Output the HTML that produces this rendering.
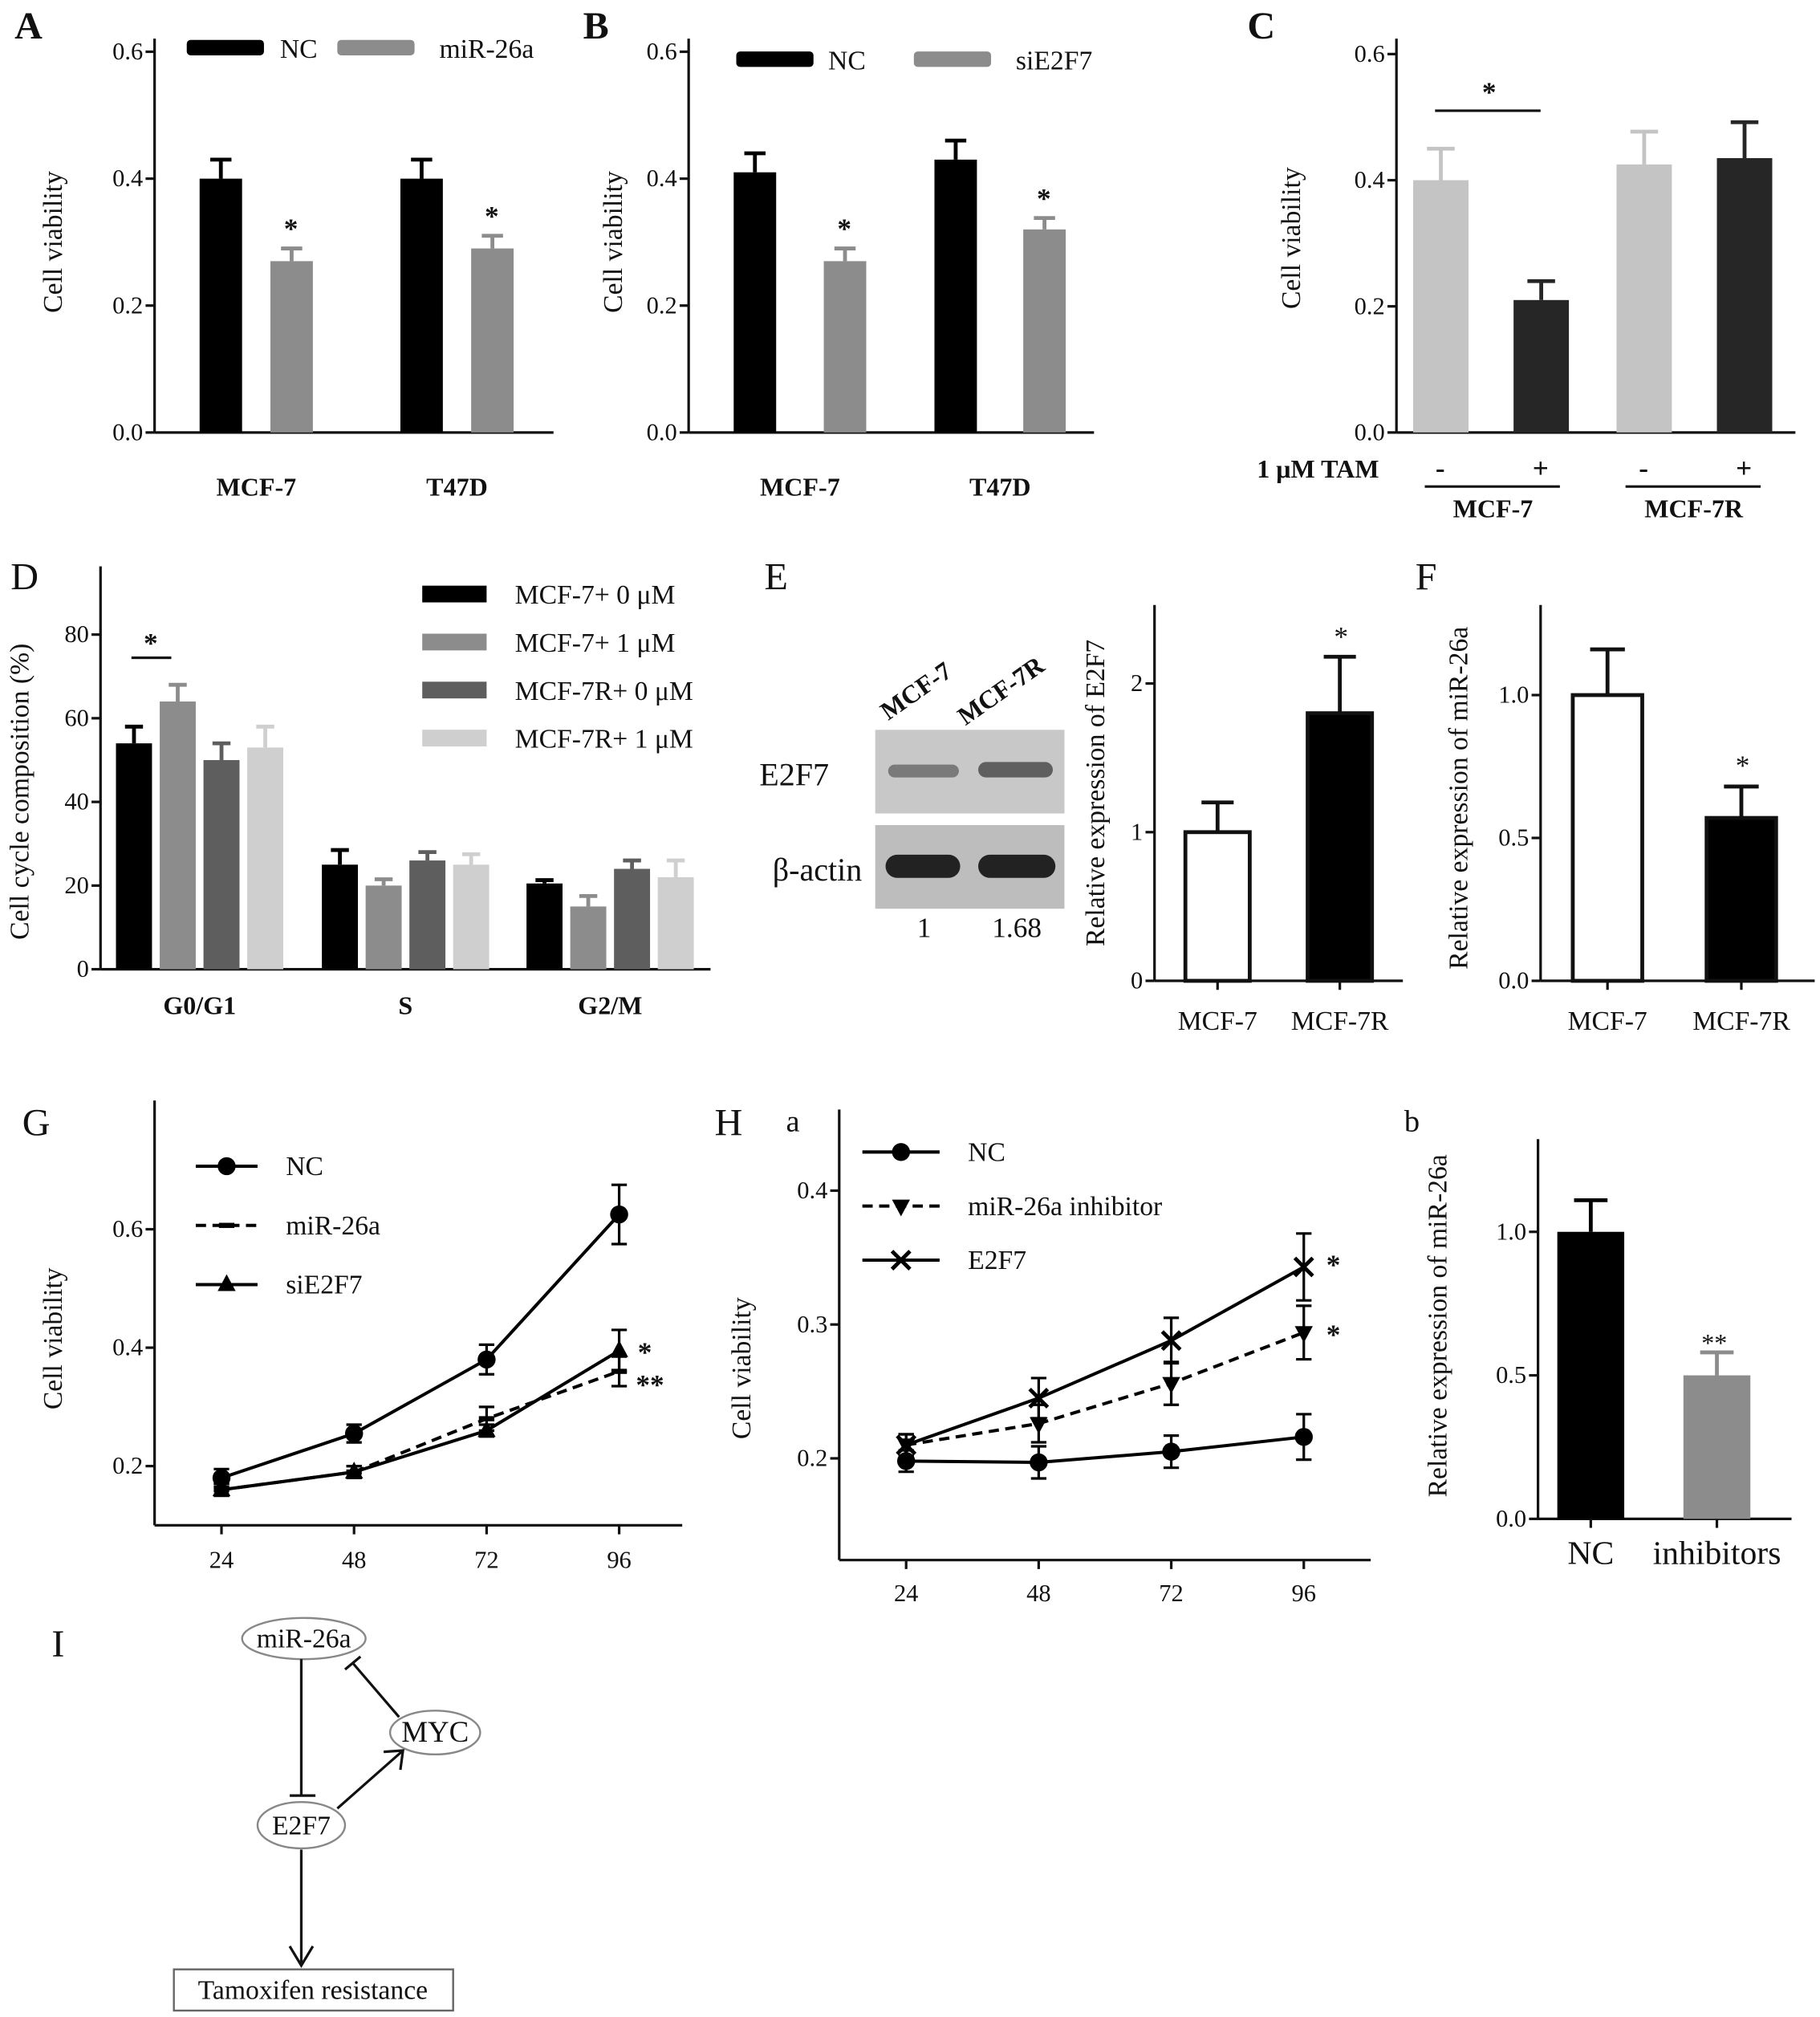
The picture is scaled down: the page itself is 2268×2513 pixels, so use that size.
<!DOCTYPE html>
<html><head><meta charset="utf-8"><style>
html,body{margin:0;padding:0;background:#fff}
svg{display:block}
svg text{font-family:"Liberation Serif","Times New Roman",Times,serif !important;fill:#111}
</style></head><body>
<svg id="fig" xmlns="http://www.w3.org/2000/svg" width="2268" height="2513" viewBox="0 0 1414 1567" font-family="Liberation Serif, Times New Roman, serif">
<rect x="0" y="0" width="1414" height="1567" fill="#fff"/>
</svg>
<script>
// ---------- DATA ----------
const aCats = ["MCF-7","T47D"];
const aNC = [0.40,0.40], aNCerr=[0.03,0.03];
const aMiR = [0.27,0.29], aMiRerr=[0.02,0.02];
const bNC = [0.41,0.43], bNCerr=[0.03,0.03];
const bSi = [0.27,0.32], bSierr=[0.02,0.018];
const cVals = [0.40,0.21,0.425,0.435], cErr=[0.05,0.03,0.052,0.057];
const axTicks06 = [0,0.2,0.4,0.6];
const dCats = ["G0/G1","S","G2/M"];
const dSeries = ["MCF-7+ 0 μM","MCF-7+ 1 μM","MCF-7R+ 0 μM","MCF-7R+ 1 μM"];
const dVals = [[54,25,20.5],[64,20,15],[50,26,24],[53,25,22]];
const dErr = [[4,3.5,0.8],[4,1.5,2.5],[4,2,2],[5,2.5,4]];
const dTicks = [0,20,40,60,80];
const eCats = ["MCF-7","MCF-7R"], eVals=[1.0,1.8], eErr=[0.2,0.38], eTicks=[0,1,2];
const fVals=[1.0,0.57], fErr=[0.16,0.11], fTicks=[0,0.5,1.0];
const gX=[24,48,72,96];
const gNC=[0.18,0.255,0.38,0.625], gNCerr=[0.015,0.015,0.025,0.05];
const gMiR=[0.16,0.19,0.28,0.36], gMiRerr=[0.01,0.01,0.02,0.025];
const gSi=[0.16,0.19,0.26,0.395], gSierr=[0.01,0.01,0.01,0.035];
const gTicks=[0.2,0.4,0.6];
const hNC=[0.198,0.197,0.205,0.216], hNCerr=[0.008,0.012,0.012,0.017];
const hInh=[0.21,0.226,0.256,0.294], hInherr=[0.008,0.014,0.016,0.02];
const hE2=[0.21,0.245,0.288,0.343], hE2err=[0.008,0.015,0.017,0.025];
const hTicks=[0.2,0.3,0.4];
const hbCats=["NC","inhibitors"], hbVals=[1.0,0.5], hbErr=[0.11,0.08], hbTicks=[0,0.5,1.0];

// ---------- HELPERS ----------
const NS="http://www.w3.org/2000/svg";
const svg=document.getElementById('fig');
function mk(tag,a,p){const e=document.createElementNS(NS,tag);for(const k in a)e.setAttribute(k,a[k]);(p||svg).appendChild(e);return e;}
function T(x,y,s,size,anchor,extra,p){const e=mk('text',Object.assign({x:x,y:y,'font-size':size,'text-anchor':anchor||'middle','font-family':'Liberation Serif, Times New Roman, serif'},extra||{}),p);e.textContent=s;return e;}
function grp(name){const g=mk('g',{});return g;}
function fmt(v,d){return d===0?String(v):v.toFixed(d);}
function yAxis(g,x,top,y0,ppu,ticks,dec,size,base){
  const l=mk('line',{x1:x,y1:top,x2:x,y2:y0,stroke:'#111','stroke-width':2},g);
  
  ticks.forEach(t=>{const y=y0-(t-base)*ppu;
    mk('line',{x1:x-7,y1:y,x2:x,y2:y,stroke:'#111','stroke-width':2},g);
    const tl=T(x-9,y+6,fmt(t,dec),size||19,'end',{},g);
    });
}
function xLine(g,x1,x2,y){const l=mk('line',{x1:x1,y1:y,x2:x2,y2:y,stroke:'#111','stroke-width':2},g);
  }
function bar(g,x,w,v,err,y0,ppu,fill,name,outline){
  const top=y0-v*ppu, et=top-err*ppu;
  mk('line',{x1:x+w/2,y1:top,x2:x+w/2,y2:et,stroke:outline?'#111':fill,'stroke-width':3},g);
  mk('line',{x1:x+w/2-w/4,y1:et,x2:x+w/2+w/4,y2:et,stroke:outline?'#111':fill,'stroke-width':3},g);
  const r=mk('rect',{x:x,y:top,width:w,height:v*ppu,fill:fill,stroke:outline?'#111':'none','stroke-width':3},g);
  
}
function yTitle(g,x,y,s,size){const t=T(x,y,s,size||21,'middle',{transform:`rotate(-90 ${x} ${y})`},g);
  }
function plabel(x,y,s,bold){const t=T(x,y,s,30,'middle',bold?{'font-weight':'bold'}:{});
  }

// ---------- PANEL A ----------
(function(){const g=grp('panel-a');const y0=336,ppu=493;
 yAxis(g,120,30,y0,ppu,axTicks06,1,19,0);xLine(g,120,430,y0);
 yTitle(g,48,188,'Cell viability');
 const xs=[155,311],xs2=[210,366];
 aCats.forEach((c,i)=>{bar(g,xs[i],33,aNC[i],aNCerr[i],y0,ppu,'#000','bar-nc-'+c);
  bar(g,xs2[i],33,aMiR[i],aMiRerr[i],y0,ppu,'#8c8c8c','bar-mir26a-'+c);
  T(xs2[i]+16,y0-(aMiR[i]+aMiRerr[i])*ppu-8,'*',22,'middle',{'font-weight':'bold'},g);
  const l=T((xs[i]+xs2[i]+33)/2,385,c,20,'middle',{'font-weight':'bold'},g);});
 mk('rect',{x:145,y:31,width:60,height:12,fill:'#000',rx:3},g);T(232,45,'NC',21,'middle',{},g);
 mk('rect',{x:262,y:31,width:60,height:12,fill:'#8c8c8c',rx:3},g);T(378,45,'miR-26a',21,'middle',{},g);
})();
// ---------- PANEL B ----------
(function(){const g=grp('panel-b');const y0=336,ppu=493;
 yAxis(g,535,30,y0,ppu,axTicks06,1,19,0);xLine(g,535,850,y0);
 yTitle(g,483,188,'Cell viability');
 const xs=[570,726],xs2=[640,795];
 aCats.forEach((c,i)=>{bar(g,xs[i],33,bNC[i],bNCerr[i],y0,ppu,'#000','bar-nc-'+c);
  bar(g,xs2[i],33,bSi[i],bSierr[i],y0,ppu,'#8c8c8c','bar-sie2f7-'+c);
  T(xs2[i]+16,y0-(bSi[i]+bSierr[i])*ppu-8,'*',22,'middle',{'font-weight':'bold'},g);
  const l=T((xs[i]+xs2[i]+33)/2,385,c,20,'middle',{'font-weight':'bold'},g);});
 mk('rect',{x:572,y:40,width:60,height:12,fill:'#000',rx:3},g);T(658,54,'NC',21,'middle',{},g);
 mk('rect',{x:710,y:40,width:60,height:12,fill:'#8c8c8c',rx:3},g);T(819,54,'siE2F7',21,'middle',{},g);
})();
// ---------- PANEL C ----------
(function(){const g=grp('panel-c');const y0=336,ppu=490;
 yAxis(g,1085,30,y0,ppu,axTicks06,1,19,0);xLine(g,1085,1395,y0);
 yTitle(g,1010,185,'Cell viability');
 const xs=[1098,1176,1256,1334],cols=['#c4c4c4','#262626','#c4c4c4','#262626'];
 cVals.forEach((v,i)=>bar(g,xs[i],43,v,cErr[i],y0,ppu,cols[i],'bar-c-'+i));
 mk('line',{x1:1115,y1:86,x2:1197,y2:86,stroke:'#111','stroke-width':2},g);
 T(1157,79,'*',22,'middle',{'font-weight':'bold'},g);
 T(1024,371,'1 μM TAM',20,'middle',{'font-weight':'bold'},g);
 ['-','+','-','+'].forEach((s,i)=>T(xs[i]+21,371,s,22,'middle',{'font-weight':'bold'},g));
 mk('line',{x1:1107,y1:378,x2:1212,y2:378,stroke:'#111','stroke-width':2},g);
 mk('line',{x1:1263,y1:378,x2:1368,y2:378,stroke:'#111','stroke-width':2},g);
 T(1160,402,'MCF-7',20,'middle',{'font-weight':'bold'},g);T(1316,402,'MCF-7R',20,'middle',{'font-weight':'bold'},g);
})();
// ---------- PANEL D ----------
(function(){const g=grp('panel-d');const y0=753,ppu=3.25;
 yAxis(g,78,440,y0,ppu,dTicks,0,19,0);xLine(g,78,552,y0);
 yTitle(g,22,615,'Cell cycle composition (%)');
 const gx=[90,250,409],cols=['#000','#8c8c8c','#5e5e5e','#cfcfcf'];
 dCats.forEach((c,j)=>{dSeries.forEach((s,i)=>bar(g,gx[j]+i*34,28,dVals[i][j],dErr[i][j],y0,ppu,cols[i],'bar-'+c+'-'+i));
  const l=T(gx[j]+65,788,c,20,'middle',{'font-weight':'bold'},g);});
 mk('line',{x1:102,y1:511,x2:133,y2:511,stroke:'#111','stroke-width':2},g);
 T(117,507,'*',22,'middle',{'font-weight':'bold'},g);
 dSeries.forEach((s,i)=>{const y=462+i*37.3;
  const r=mk('rect',{x:328,y:y-7,width:50,height:13,fill:cols[i]},g);
  T(400,y+7,s,21,'start',{},g);});
})();
// ---------- PANEL E ----------
(function(){const g=grp('panel-e');
 const bl=mk('rect',{x:680,y:567,width:147,height:65,fill:'#c8c8c8'},g);
 mk('rect',{x:680,y:641,width:147,height:65,fill:'#bdbdbd'},g);
 mk('rect',{x:690,y:594,width:55,height:10,fill:'#7a7a7a',rx:5},g);mk('rect',{x:760,y:592,width:58,height:12,fill:'#5f5f5f',rx:6},g);
 mk('rect',{x:688,y:664,width:58,height:18,fill:'#222',rx:9},g);mk('rect',{x:760,y:664,width:60,height:18,fill:'#222',rx:9},g);
 T(690,560,'MCF-7',20,'start',{'font-weight':'bold',transform:'rotate(-35 690 560)'},g);
 T(750,564,'MCF-7R',20,'start',{'font-weight':'bold',transform:'rotate(-35 750 564)'},g);
 T(617,610,'E2F7',25,'middle',{},g);T(635,684,'β-actin',25,'middle',{},g);
 T(718,728,'1',22,'middle',{},g);T(790,728,'1.68',22,'middle',{},g);
 const y0=762,ppu=115.5;
 yAxis(g,897,470,y0,ppu,eTicks,0,19,0);xLine(g,897,1090,y0);
 yTitle(g,858,616,'Relative expression of E2F7');
 const xs=[921,1016];
 eVals.forEach((v,i)=>{bar(g,xs[i],50,v,eErr[i],y0,ppu,i?'#000':'#fff','bar-e-'+eCats[i],true);
  mk('line',{x1:xs[i]+25,y1:y0,x2:xs[i]+25,y2:y0+7,stroke:'#111','stroke-width':2},g);
  T(xs[i]+25,800,eCats[i],21,'middle',{},g);});
 T(1042,502,'*',22,'middle',{},g);
})();
// ---------- PANEL F ----------
(function(){const g=grp('panel-f');const y0=762,ppu=222;
 yAxis(g,1197,470,y0,ppu,fTicks,1,19,0);xLine(g,1197,1410,y0);
 yTitle(g,1140,620,'Relative expression of miR-26a');
 const xs=[1222,1326];
 fVals.forEach((v,i)=>{bar(g,xs[i],54,v,fErr[i],y0,ppu,i?'#000':'#fff','bar-f-'+eCats[i],true);
  mk('line',{x1:xs[i]+27,y1:y0,x2:xs[i]+27,y2:y0+7,stroke:'#111','stroke-width':2},g);
  T(xs[i]+27,800,eCats[i],21,'middle',{},g);});
 T(1354,602,'*',22,'middle',{},g);
})();
// ---------- line chart helper ----------
function marker(g,type,x,y){
 if(type==='circle')mk('circle',{cx:x,cy:y,r:7,fill:'#000'},g);
 else if(type==='tri-up')mk('polygon',{points:`${x},${y-8} ${x-7},${y+5} ${x+7},${y+5}`,fill:'#000'},g);
 else if(type==='tri-down')mk('polygon',{points:`${x},${y+8} ${x-7},${y-5} ${x+7},${y-5}`,fill:'#000'},g);
 else if(type==='x'){mk('path',{d:`M${x-7},${y-7}L${x+7},${y+7}M${x+7},${y-7}L${x-7},${y+7}`,stroke:'#000','stroke-width':3},g);}
 else if(type==='dash')mk('rect',{x:x-6,y:y-2,width:12,height:4,fill:'#000'},g);
}
function series(g,name,vals,errs,xs,xpos,y0,ppu,base,type,dash){
 const sg=mk('g',{},g);
 const py=v=>y0-(v-base)*ppu;
 const pts=vals.map((v,i)=>xpos(xs[i])+','+py(v)).join(' ');
 const pl=mk('polyline',{points:pts,fill:'none',stroke:'#000','stroke-width':2.5,'stroke-dasharray':dash?'8,5':'none'},sg);
 
 vals.forEach((v,i)=>{const x=xpos(xs[i]),a=py(v+errs[i]),b=py(v-errs[i]);
  mk('path',{d:`M${x},${a}L${x},${b}M${x-6},${a}L${x+6},${a}M${x-6},${b}L${x+6},${b}`,stroke:'#000','stroke-width':2},sg);
  marker(sg,type,x,py(v));});
}
// ---------- PANEL G ----------
(function(){const g=grp('panel-g');const y0=1139,ppu=460,base=0.2;
 const xpos=h=>172+(h-24)*(309/72);
 mk('line',{x1:120,y1:855,x2:120,y2:1185,stroke:'#111','stroke-width':2},g);xLine(g,120,530,1185);
 gTicks.forEach(t=>{const y=y0-(t-base)*ppu;mk('line',{x1:113,y1:y,x2:120,y2:y,stroke:'#111','stroke-width':2},g);T(111,y+6,t.toFixed(1),19,'end',{},g);});
 gX.forEach(h=>{mk('line',{x1:xpos(h),y1:1185,x2:xpos(h),y2:1192,stroke:'#111','stroke-width':2},g);T(xpos(h),1218,String(h),19,'middle',{},g);});
 yTitle(g,48,1040,'Cell viability');
 series(g,'series-nc',gNC,gNCerr,gX,xpos,y0,ppu,base,'circle',false);
 series(g,'series-mir26a',gMiR,gMiRerr,gX,xpos,y0,ppu,base,'dash',true);
 series(g,'series-sie2f7',gSi,gSierr,gX,xpos,y0,ppu,base,'tri-up',false);
 T(501,1058,'*',22,'middle',{'font-weight':'bold'},g);T(505,1083,'**',22,'middle',{'font-weight':'bold'},g);
 [['NC','circle',false,906],['miR-26a','dash',true,952],['siE2F7','tri-up',false,998]].forEach(r=>{
  mk('line',{x1:152,y1:r[3],x2:200,y2:r[3],stroke:'#000','stroke-width':2.5,'stroke-dasharray':r[2]?'8,5':'none'},g);marker(g,r[1],176,r[3]);T(222,r[3]+7,r[0],21,'start',{},g);});
})();
// ---------- PANEL H a ----------
(function(){const g=grp('panel-h-a');const y0=1133,ppu=1040,base=0.2;
 const xpos=h=>704+(h-24)*(309/72);
 mk('line',{x1:652,y1:862,x2:652,y2:1212,stroke:'#111','stroke-width':2},g);xLine(g,652,1065,1212);
 hTicks.forEach(t=>{const y=y0-(t-base)*ppu;mk('line',{x1:645,y1:y,x2:652,y2:y,stroke:'#111','stroke-width':2},g);T(643,y+6,t.toFixed(1),19,'end',{},g);});
 gX.forEach(h=>{mk('line',{x1:xpos(h),y1:1212,x2:xpos(h),y2:1219,stroke:'#111','stroke-width':2},g);T(xpos(h),1244,String(h),19,'middle',{},g);});
 yTitle(g,583,1063,'Cell viability');
 series(g,'series-nc',hNC,hNCerr,gX,xpos,y0,ppu,base,'circle',false);
 series(g,'series-inhibitor',hInh,hInherr,gX,xpos,y0,ppu,base,'tri-down',true);
 series(g,'series-e2f7',hE2,hE2err,gX,xpos,y0,ppu,base,'x',false);
 T(1036,990,'*',22,'middle',{'font-weight':'bold'},g);T(1036,1044,'*',22,'middle',{'font-weight':'bold'},g);
 [['NC','circle',false,895],['miR-26a inhibitor','tri-down',true,937],['E2F7','x',false,979]].forEach(r=>{
  mk('line',{x1:670,y1:r[3],x2:730,y2:r[3],stroke:'#000','stroke-width':2.5,'stroke-dasharray':r[2]?'8,5':'none'},g);marker(g,r[1],700,r[3]);T(752,r[3]+7,r[0],21,'start',{},g);});
})();
// ---------- PANEL H b ----------
(function(){const g=grp('panel-h-b');const y0=1180,ppu=223;
 yAxis(g,1195,885,y0,ppu,hbTicks,1,19,0);xLine(g,1195,1392,y0);
 yTitle(g,1124,1030,'Relative expression of miR-26a');
 const xs=[1210,1308],cols=['#000','#8c8c8c'];
 hbVals.forEach((v,i)=>{bar(g,xs[i],52,v,hbErr[i],y0,ppu,cols[i],'bar-hb-'+hbCats[i]);
  mk('line',{x1:xs[i]+26,y1:y0,x2:xs[i]+26,y2:y0+7,stroke:'#111','stroke-width':2},g);
  T(xs[i]+26,1215,hbCats[i],26,'middle',{},g);});
 T(1332,1050,'**',20,'middle',{},g);
})();
// ---------- PANEL I ----------
(function(){const g=grp('panel-i-diagram');
 const nodes=[['miR-26a',236,1273,48,16],['MYC',338,1346,35,17],['E2F7',234,1418,34,18]];
 nodes.forEach(n=>{const e=mk('ellipse',{cx:n[1],cy:n[2],rx:n[3],ry:n[4],fill:'#fff',stroke:'#888','stroke-width':1.5},g);
  
  T(n[1],n[2]+7,n[0],n[0]==='MYC'?23:21,'middle',{},g);});
 const P=d=>mk('path',{d:d,stroke:'#111','stroke-width':2,fill:'none'},g);
 P('M234,1289L234,1395M225,1395L245,1395');
 P('M310,1334L274,1292M268,1297L280,1287');
 P('M262,1405L313,1360M298,1361L313,1360L311,1375');
 P('M234,1437L234,1527M225,1512L234,1527L243,1512');
 const b=mk('rect',{x:135,y:1530,width:217,height:32,fill:'#fff',stroke:'#666','stroke-width':1.5},g);
 
 T(243,1553,'Tamoxifen resistance',21,'middle',{},g);
})();
// ---------- PANEL LABELS ----------
plabel(22,30,'A',true);plabel(463,30,'B',true);plabel(980,30,'C',true);
plabel(19,458,'D');plabel(603,458,'E');plabel(1108,458,'F');
plabel(28,882,'G');plabel(566,882,'H');T(616,879,'a',24,'middle',{});T(1097,879,'b',24,'middle',{});
plabel(45,1287,'I');
</script>
</body></html>
